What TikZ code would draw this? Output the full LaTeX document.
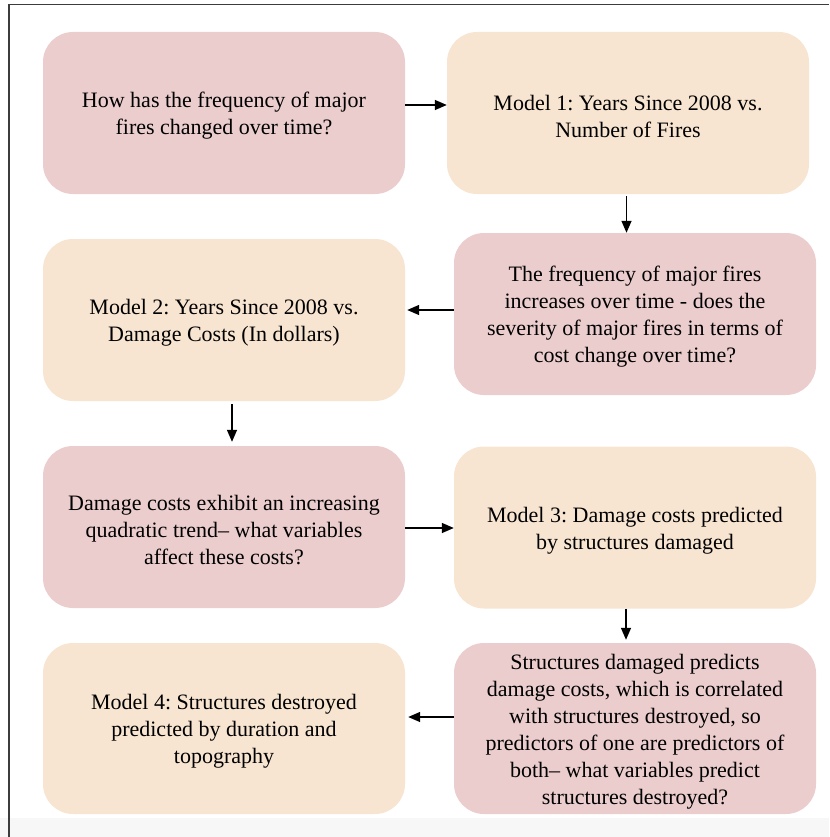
\documentclass[tikz,border=0pt]{standalone}
\usepackage{fontspec}
\setmainfont{Liberation Serif}
\usetikzlibrary{arrows.meta}
\definecolor{pinkbox}{RGB}{236,205,205}
\definecolor{peachbox}{RGB}{248,229,209}
\definecolor{framegray}{RGB}{60,60,60}
\definecolor{bottomgray}{RGB}{247,247,247}
\newcommand\boxtxt[1]{\raisebox{-3pt}[\height][\depth]{\parbox{355pt}{\centering #1}}}
\begin{document}
\frenchspacing
\begin{tikzpicture}[x=1pt,y=-1pt,
  box/.style={rounded corners=30pt, minimum width=362pt, minimum height=162pt,
    inner sep=0pt, font=\fontsize{22}{27}\selectfont},
  pinkb/.style={box, fill=pinkbox},
  peachb/.style={box, fill=peachbox},
  arr/.style={line width=1.4pt, -{Triangle[length=12pt,width=10pt]}}]
\useasboundingbox (0,0) rectangle (829,837);
\fill[bottomgray] (0,818) rectangle (829,837);
\draw[framegray, line width=1.5pt] (9,837) -- (9,4.5) -- (829,4.5);
\node[pinkb]  (A) at (224,113) {\boxtxt{How has the frequency of major\\fires changed over time?}};
\node[peachb] (B) at (628,113) {\boxtxt{Model 1: Years Since 2008 vs.\\Number of Fires}};
\node[pinkb]  (C) at (635,314) {\boxtxt{The frequency of major fires\\increases over time - does the\\severity of major fires in terms of\\cost change over time?}};
\node[peachb] (D) at (224,320) {\boxtxt{Model 2: Years Since 2008 vs.\\Damage Costs (In dollars)}};
\node[pinkb]  (E) at (224,527) {\boxtxt{Damage costs exhibit an increasing\\quadratic trend-- what variables\\affect these costs?}};
\node[peachb] (F) at (635,527.5) {\boxtxt{Model 3: Damage costs predicted\\by structures damaged}};
\node[pinkb, minimum height=171pt]  (G) at (635,728.5) {\boxtxt{Structures damaged predicts\\damage costs, which is correlated\\with structures destroyed, so\\predictors of one are predictors of\\both-- what variables predict\\structures destroyed?}};
\node[peachb, minimum height=171pt] (H) at (224,728.5) {\boxtxt{Model 4: Structures destroyed\\predicted by duration and\\topography}};
\draw[arr] ([yshift=8pt]A.east) -- ([yshift=8pt]B.west);
\draw[arr] ([xshift=-1.5pt,yshift=-2pt]B.south) -- ([xshift=-1.5pt]B.south |- C.north);
\draw[arr] ([yshift=4pt]C.west) -- ([xshift=2pt,yshift=4pt]C.west -| D.east);
\draw[arr] ([xshift=8pt,yshift=-3pt]D.south) -- ([xshift=8pt,yshift=4pt]D.south |- E.north);
\draw[arr] ([yshift=-1pt]E.east) -- ([yshift=-1pt]E.east -| F.west);
\draw[arr] ([xshift=-9pt]F.south) -- ([xshift=-9pt,yshift=3pt]F.south |- G.north);
\draw[arr] ([yshift=11.5pt]G.west) -- ([xshift=3pt,yshift=11.5pt]G.west -| H.east);
\end{tikzpicture}
\end{document}
